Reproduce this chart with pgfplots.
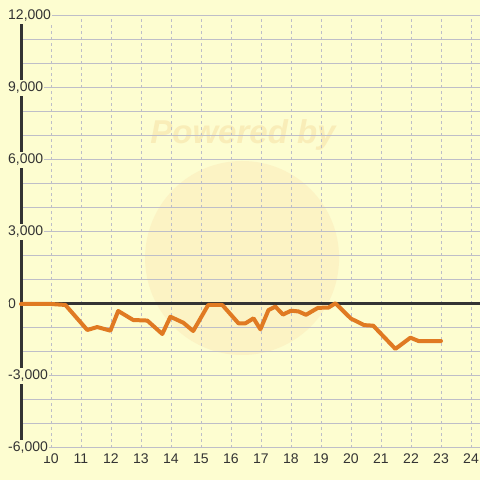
\documentclass[border=0pt]{standalone}
\usepackage{fontspec}
\setmainfont{Liberation Sans}
\usepackage{pgfplots}
\pgfplotsset{compat=1.18}
\definecolor{bg}{RGB}{253,253,208}
\definecolor{gridc}{RGB}{190,190,200}
\definecolor{axc}{RGB}{51,51,51}
\definecolor{linec}{RGB}{224,122,34}
\definecolor{wm}{RGB}{252,243,196}
\definecolor{wmt}{RGB}{249,237,184}
\begin{document}
\begin{tikzpicture}
\begin{axis}[
  at={(21pt,32pt)}, anchor=south west, scale only axis,
  width=459pt, height=432pt,
  xmin=9, xmax=24.3, ymin=-6000, ymax=12000,
  set layers,
  axis line style={draw=none},
  xtick={10,...,24}, ytick={-6000,-3000,...,12000}, minor y tick num=2,
  tick style={draw=none},
  xmajorgrids, ymajorgrids, yminorgrids,
  x grid style={gridc, dash pattern=on 3pt off 3pt, line width=0.8pt},
  y grid style={gridc, line width=1pt},
  extra x ticks={9}, extra x tick labels={},
  extra x tick style={x grid style={axc, solid, line width=3pt}},
  extra y ticks={0}, extra y tick labels={},
  extra y tick style={y grid style={axc, solid, line width=3pt}},
  scaled y ticks=false,
  /pgf/number format/assume math mode=true,
  /pgf/number format/1000 sep={,},
  tick label style={font=\fontsize{14}{16}\selectfont, text=axc},
  yticklabel style={anchor=west, inner xsep=1pt, inner ysep=2pt, fill=bg, xshift=-14pt},
  xticklabel style={anchor=north, inner sep=0pt, yshift=-6pt},
  clip=false,
]
\begin{pgfonlayer}{axis background}
\fill[bg] (axis cs:8.3,-7333.3) rectangle (axis cs:24.3,12666.7);
\fill[wm] (axis cs:16.37,1917) circle (97pt);
\node[font=\bfseries\itshape\fontsize{33}{33}\selectfont, text=wmt] at (axis cs:16.4,7042) {Powered by};
\end{pgfonlayer}
\addplot[linec, line width=4pt, line join=round, line cap=round] coordinates {
(9.0,0) (10.0,0) (10.48,-40) (11.21,-1083) (11.54,-960) (11.98,-1110)
(12.24,-290) (12.74,-667) (13.21,-690) (13.71,-1250) (13.98,-530)
(14.41,-780) (14.74,-1125) (15.24,-40) (15.71,-40) (16.25,-805)
(16.48,-805) (16.75,-597) (16.98,-1055) (17.25,-250) (17.48,-110)
(17.73,-440) (18.0,-280) (18.25,-310) (18.5,-450) (18.9,-160)
(19.25,-150) (19.48,30) (20.0,-610) (20.44,-880) (20.74,-903)
(21.48,-1870) (21.98,-1403) (22.25,-1542) (23.0,-1542)
};
\end{axis}
\pgfresetboundingbox
\useasboundingbox (0pt,0pt) rectangle (480pt,480pt);
\end{tikzpicture}
\end{document}
